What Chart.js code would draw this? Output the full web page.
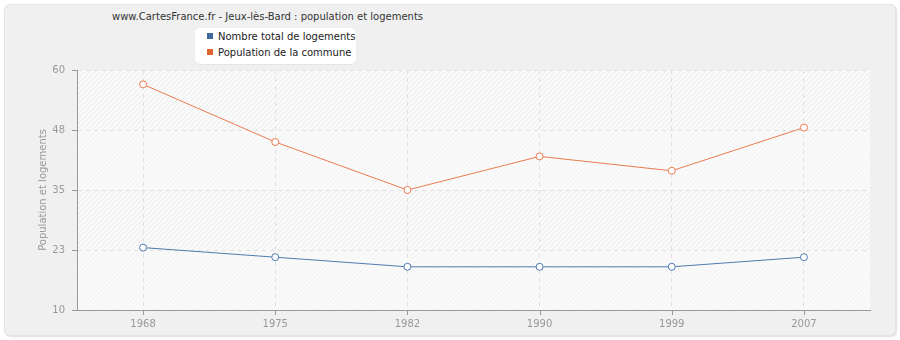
<!DOCTYPE html>
<html>
<head>
<meta charset="utf-8">
<script src="https://cdn.jsdelivr.net/npm/chart.js@4/dist/chart.umd.min.js"></script>
<style>
  html, body { margin: 0; padding: 0; background: #fff; }
  #wrap { position: relative; width: 900px; height: 340px; font-family: Tahoma, "DejaVu Sans", sans-serif; }
  #card { position: absolute; left: 4px; top: 4px; width: 890px; height: 330px; background: #f0f0f0;
          border: 1px solid #e4e4e4; border-radius: 6px; box-shadow: 1px 1px 2px #ddd; }
  #title { position: absolute; left: 0; width: 535px; top: 11px; text-align: center; font-size: 10px; color: #333; }
  #legend { position: absolute; left: 195px; top: 28px; width: 161px; height: 36px; background: #fff;
            border-radius: 5px; font-size: 10px; color: #222; box-shadow: 0 1px 1px #e6e6e6; }
  #legend div { position: absolute; left: 12px; white-space: nowrap; }
  #legend span { display: inline-block; width: 6px; height: 6px; margin-right: 5px; vertical-align: 1px; }
  canvas { position: absolute; left: 0; top: 0; }
</style>
</head>
<body>
<div id="wrap">
  <div id="card"></div>
  <div id="title">www.CartesFrance.fr - Jeux-lès-Bard : population et logements</div>
  <div id="legend">
    <div style="top:3px"><span style="background:#3d6a9a"></span>Nombre total de logements</div>
    <div style="top:19px"><span style="background:#e0642f"></span>Population de la commune</div>
  </div>
  <canvas id="chart" width="900" height="340"></canvas>
</div>
<script>
const years = ['1968', '1975', '1982', '1990', '1999', '2007'];
const logements = [23, 21, 19, 19, 19, 21];
const population = [57, 45, 35, 42, 39, 48];
const yTickLabels = ['10', '23', '35', '48', '60'];
const yTitle = 'Population et logements';

const FONT = 'Tahoma, "DejaVu Sans", sans-serif';

const decor = {
  id: 'decor',
  beforeDraw(chart) {
    const { ctx, chartArea: a, scales: { y } } = chart;
    ctx.save();
    ctx.fillStyle = '#fafafa';
    ctx.fillRect(a.left, a.top, a.right - a.left, a.bottom - a.top);
    // alternating hatched bands
    const ticks = y.ticks;
    for (let i = 0; i < ticks.length - 1; i++) {
      const y0 = y.getPixelForValue(ticks[i + 1].value);
      const y1 = y.getPixelForValue(ticks[i].value);
      ctx.save();
      ctx.beginPath();
      ctx.rect(a.left, y0, a.right - a.left, y1 - y0);
      ctx.clip();
      ctx.strokeStyle = (i % 2 === 1) ? '#ebebeb' : '#f3f3f3';
      ctx.lineWidth = 1;
      for (let x = a.left - 300; x < a.right + 300; x += 5) {
        ctx.beginPath();
        ctx.moveTo(x, y1);
        ctx.lineTo(x + (y1 - y0), y0);
        ctx.stroke();
      }
      ctx.restore();
    }
    ctx.restore();
  },
  afterDraw(chart) {
    const { ctx, chartArea: a, scales: { x, y } } = chart;
    ctx.save();
    ctx.strokeStyle = '#999';
    ctx.lineWidth = 1;
    y.ticks.forEach(t => {
      const py = Math.round(y.getPixelForValue(t.value)) + 0.5;
      ctx.beginPath(); ctx.moveTo(a.left - 5, py); ctx.lineTo(a.left, py); ctx.stroke();
    });
    years.forEach((_, i) => {
      const px = Math.round(x.getPixelForValue(i)) + 0.5;
      ctx.beginPath(); ctx.moveTo(px, a.bottom); ctx.lineTo(px, a.bottom + 5); ctx.stroke();
    });
    ctx.translate(43, (a.top + a.bottom) / 2);
    ctx.rotate(-Math.PI / 2);
    ctx.fillStyle = '#999';
    ctx.font = '10px ' + FONT;
    ctx.textAlign = 'center';
    ctx.textBaseline = 'middle';
    ctx.fillText(yTitle, 0, 0);
    ctx.restore();
  }
};

new Chart(document.getElementById('chart'), {
  type: 'line',
  data: {
    labels: years,
    datasets: [
      {
        label: 'Nombre total de logements',
        data: logements,
        borderColor: '#4f7bb0',
        borderWidth: 1,
        pointRadius: 3.5,
        pointBorderWidth: 1,
        pointBackgroundColor: '#fff',
        tension: 0
      },
      {
        label: 'Population de la commune',
        data: population,
        borderColor: '#ec7b50',
        borderWidth: 1,
        pointRadius: 3.5,
        pointBorderWidth: 1,
        pointBackgroundColor: '#fff',
        tension: 0
      }
    ]
  },
  options: {
    responsive: false,
    animation: false,
    layout: { padding: { top: 70, right: 30, bottom: 0, left: 0 } },
    plugins: { legend: { display: false }, tooltip: { enabled: false } },
    scales: {
      x: {
        offset: true,
        afterFit: s => { s.height = 30; },
        grid: { color: '#e0e0e0', drawTicks: false, offset: false },
        border: { color: '#999', width: 1, dash: [4, 4] },
        ticks: { color: '#999', font: { family: FONT, size: 10 }, padding: 8, maxRotation: 0 }
      },
      y: {
        min: 10,
        max: 60,
        afterFit: s => { s.width = 77; },
        afterBuildTicks: s => { s.ticks = yTickLabels.map((_, i) => ({ value: 10 + i * 12.5 })); },
        grid: { color: '#e0e0e0', drawTicks: false },
        border: { color: '#999', width: 1, dash: [4, 4] },
        ticks: {
          color: '#999',
          font: { family: FONT, size: 10 },
          padding: 12,
          callback: (v, i) => yTickLabels[i]
        }
      }
    }
  },
  plugins: [decor]
});
</script>
</body>
</html>
